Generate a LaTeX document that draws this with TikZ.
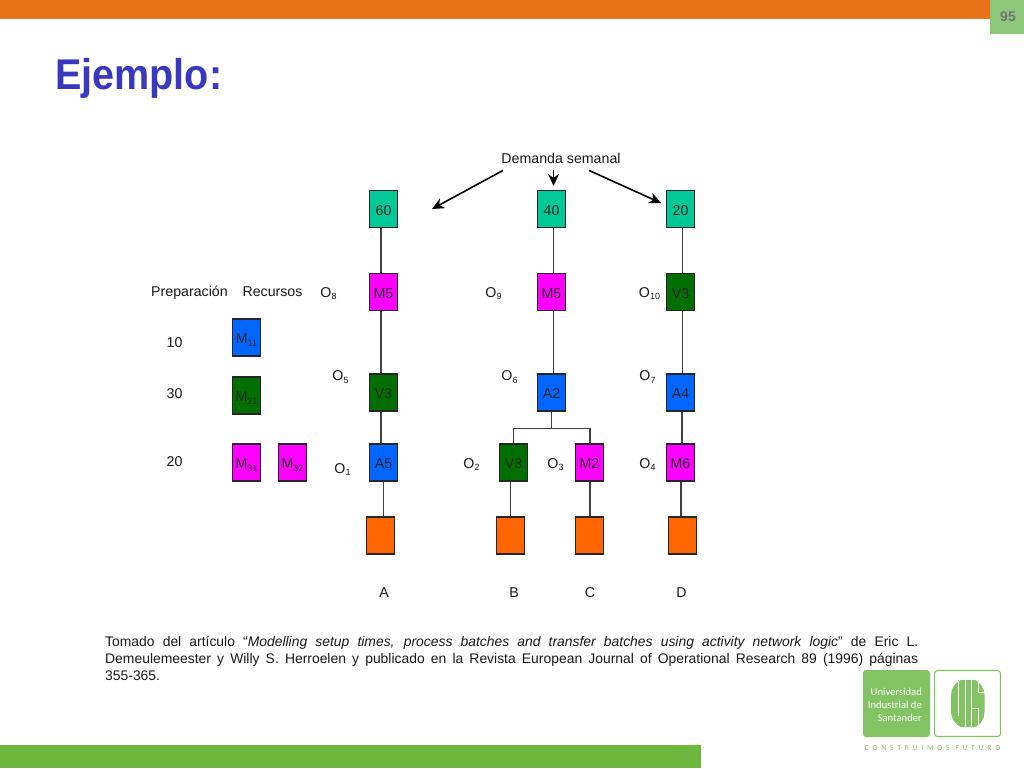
\documentclass[tikz,border=0pt]{standalone}
\usepackage{fontspec}
\setmainfont{Liberation Sans}
\newfontfamily\logofont{Carlito}
\newfontfamily\logospaced[LetterSpace=50]{Carlito}
\usetikzlibrary{arrows.meta}
\definecolor{topbar}{HTML}{E8731A}
\definecolor{uisgreen}{HTML}{6DB73F}
\definecolor{pagebox}{HTML}{8CC87A}
\definecolor{logogreen}{HTML}{82C464}
\definecolor{titleblue}{HTML}{3A38C0}
\definecolor{teal}{HTML}{00C896}
\definecolor{magentabox}{HTML}{FF00FF}
\definecolor{greenbox}{HTML}{006E00}
\definecolor{bluebox}{HTML}{0066FF}
\definecolor{orangebox}{HTML}{FF6600}
\newcommand\sbs[1]{\raisebox{-2.6pt}{\fontsize{9}{9}\selectfont #1}}
\tikzset{
  x=1pt,y=-1pt,
  opbox/.style={draw=black!85,line width=1.1pt,minimum width=28.5pt,minimum height=37pt,inner sep=0pt,text height=12pt,text depth=0pt,font=\fontsize{14.2}{16}\selectfont,text=black!85},
  tealbox/.style={opbox,fill=teal},
  magbox/.style={opbox,fill=magentabox},
  grnbox/.style={opbox,fill=greenbox},
  blubox/.style={opbox,fill=bluebox},
  orgbox/.style={opbox,fill=orangebox},
  lab/.style={inner sep=0pt,yshift=-1pt,font=\fontsize{14.2}{16}\selectfont,text=black!90},
  link/.style={draw=black!75,line width=1.3pt},
  demand/.style={draw=black,line width=1.6pt,-{Stealth[length=12pt,width=11pt]}}
}
\begin{document}
\begin{tikzpicture}
\useasboundingbox (0,0) rectangle (1024,768);
\fill[white] (0,0) rectangle (1024,768);
\fill[topbar] (0,0) rectangle (990,19);
\fill[pagebox] (990,0) rectangle (1024,34);
\node[inner sep=0pt,font=\fontsize{14}{16}\selectfont\bfseries,text=black!55] (pg) at (1008,17) {95};
\fill[uisgreen] (0,745) rectangle (701,768);
\node[anchor=base west,inner sep=0pt,font=\fontsize{43}{48}\selectfont\bfseries,text=titleblue] (title) at (55,89) {\scalebox{0.92}[1]{Ejemplo:}};

\node[lab] (dem) at (561,157) {Demanda semanal};
\coordinate (ta) at (432,209);
\coordinate (tb) at (553.5,186);
\coordinate (tc) at (661,203);

% boxes
\node[tealbox] (d1) at (383.5,209) {60};
\node[tealbox] (d2) at (551.5,209) {40};
\node[tealbox] (d3) at (680.5,209) {20};
\node[magbox] (o8) at (383.5,292) {M5};
\node[magbox] (o9) at (551.5,292) {M5};
\node[grnbox] (o10) at (680.5,292) {V3};
\node[grnbox] (o5) at (383.5,392.5) {V3};
\node[blubox] (o6) at (551.5,392.5) {A2};
\node[blubox] (o7) at (680.5,392.5) {A4};
\node[blubox] (o1) at (383.5,462.5) {A5};
\node[grnbox] (o2) at (513.5,462.5) {V3};
\node[magbox] (o3) at (589.5,462.5) {M2};
\node[magbox] (o4) at (680.5,462.5) {M6};
\node[orgbox] (p1) at (380.5,535.5) {};
\node[orgbox] (p2) at (510.5,535.5) {};
\node[orgbox] (p3) at (589.5,535.5) {};
\node[orgbox] (p4) at (682.5,535.5) {};
\node[blubox] (r1) at (246.5,337.5) {M\sbs{11}};
\node[grnbox] (r2) at (246.5,395.5) {M\sbs{21}};
\node[magbox] (r3) at (246.5,462.5) {M\sbs{31}};
\node[magbox] (r4) at (292.5,462.5) {M\sbs{32}};

% connectors
\draw[demand] ([xshift=-58pt,yshift=-7pt]dem.south) -- (ta);
\draw[demand] ([xshift=-7.5pt,yshift=-7pt]dem.south) -- (tb);
\draw[demand] ([xshift=28pt,yshift=-7pt]dem.south) -- (tc);
\draw[link] ([xshift=-2.5pt]d1.south) -- ([xshift=-2.5pt]o8.north);
\draw[link] ([xshift=-2.5pt]o8.south) -- ([xshift=-2.5pt]o5.north);
\draw[link] ([xshift=-2.5pt]o5.south) -- ([xshift=-2.5pt]o1.north);
\draw[link] (o1.south) -- (o1.south |- p1.north);
\draw[link] ([xshift=2pt]d2.south) -- ([xshift=2pt]o9.north);
\draw[link] ([xshift=2pt]o9.south) -- ([xshift=2pt]o6.north);
\draw[link] ([xshift=2pt]d3.south) -- ([xshift=2pt]o10.north);
\draw[link] ([xshift=2pt]o10.south) -- ([xshift=2pt]o7.north);
\draw[link] ([xshift=1.5pt]o7.south) -- ([xshift=1.5pt]o4.north);
\draw[link] (o6.south) -- ++(0,17) coordinate (fork);
\draw[link] (o2.north) |- (fork) -| ([xshift=0.5pt]o3.north);
\draw[link] (p2.north) -- (p2.north |- o2.south);
\draw[link] ([xshift=0.5pt]o3.south) -- ([xshift=0.5pt]p3.north);
\draw[link] ([xshift=0.5pt]o4.south) -- ([xshift=0.5pt]o4.south |- p4.north);

% labels
\node[lab,anchor=base] (lprep) at (189.5,295) {Preparación};
\node[lab,anchor=base] (lrec) at (272.5,295) {Recursos};
\node[lab] (l8) at (328.5,292.5) {O\sbs{8}};
\node[lab] (l9) at (493.5,292.5) {O\sbs{9}};
\node[lab] (l10) at (649.5,292.5) {O\sbs{10}};
\node[lab] (l5) at (340.5,376) {O\sbs{5}};
\node[lab] (l6) at (509.5,376) {O\sbs{6}};
\node[lab] (l7) at (647.5,376) {O\sbs{7}};
\node[lab] (l1) at (342.5,468.5) {O\sbs{1}};
\node[lab] (l2) at (471.5,463.5) {O\sbs{2}};
\node[lab] (l3) at (555.5,463.5) {O\sbs{3}};
\node[lab] (l4) at (647.5,463.5) {O\sbs{4}};
\node[lab] (n10) at (174.5,342) {10};
\node[lab] (n30) at (174.5,393) {30};
\node[lab] (n20) at (174.5,461) {20};
\node[lab] (la) at (384,592) {A};
\node[lab] (lb) at (514,592) {B};
\node[lab] (lc) at (590,592) {C};
\node[lab] (ld) at (681.5,592) {D};

% citation
\node[anchor=north west,inner sep=0pt,text width=813pt,align=justify,font=\fontsize{13.9}{17}\selectfont,text=black!90] (cite) at (105,636)
 {Tomado del artículo “\textit{Modelling setup times, process batches and transfer batches using activity network logic}” de Eric L.\linebreak Demeulemeester y Willy S. Herroelen y publicado en la Revista European Journal of Operational Research 89 (1996) páginas\linebreak 355-365.};

% logo
\fill[logogreen,rounded corners=3pt] (863,670) rectangle (930,737);
\node[anchor=base east,inner sep=0pt,font=\logofont\fontsize{10.6}{12}\selectfont,text=white] (u1) at (922,695) {Universidad};
\node[anchor=base east,inner sep=0pt,font=\logofont\fontsize{10.6}{12}\selectfont,text=white] (u2) at (922,708) {Industrial de};
\node[anchor=base east,inner sep=0pt,font=\logofont\fontsize{10.6}{12}\selectfont,text=white] (u3) at (922,721) {Santander};
\draw[logogreen,line width=1.1pt,rounded corners=3pt,fill=white] (934.5,670.5) rectangle (1000.5,736.5);
\fill[logogreen] (961,680) .. controls (956,682) and (951,688) .. (951,695) -- (951,712) .. controls (951,719) and (956,725) .. (961,727) -- (975,727) .. controls (980,725) and (984.5,719) .. (984.5,712) -- (984.5,695) .. controls (984.5,688) and (980,682) .. (975,680) -- cycle;
\draw[white,line width=0.9pt] (958,679) -- (958,716);
\draw[white,line width=0.9pt] (965,679) -- (965,728);
\draw[white,line width=0.9pt] (971,679) -- (971,728);
\draw[white,line width=0.9pt] (985,692) -- (978,692) -- (978,679);
\draw[white,line width=0.9pt] (971,708) -- (978,708) -- (978,728);
\node[inner sep=0pt,font=\logospaced\fontsize{7.6}{8}\selectfont,text=logogreen] (motto) at (932.5,748) {CONSTRUIMOS FUTURO};
\end{tikzpicture}
\end{document}
